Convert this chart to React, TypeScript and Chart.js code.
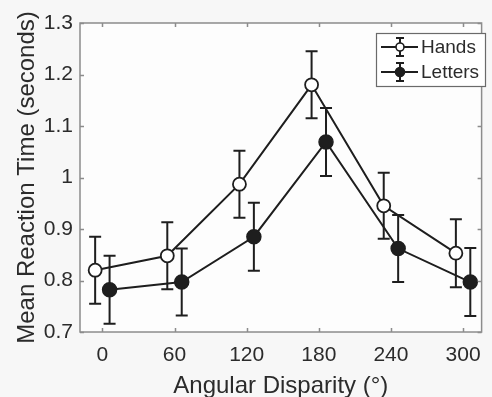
import React, { useEffect, useRef } from "react";
import { Chart, registerables } from "chart.js";

Chart.register(...registerables);

const angles = [0, 60, 120, 180, 240, 300];
const handsMean = [0.82, 0.848, 0.987, 1.18, 0.945, 0.853];
const handsErr = [0.065, 0.065, 0.065, 0.065, 0.064, 0.066];
const lettersMean = [0.782, 0.797, 0.885, 1.069, 0.862, 0.797];
const lettersErr = [0.066, 0.065, 0.066, 0.066, 0.065, 0.066];
const offsetDeg = 6;
const seriesNames = ["Hands", "Letters"];
const yTicks = [0.7, 0.8, 0.9, 1.0, 1.1, 1.2, 1.3];

const FONT = "'Liberation Sans', Arial, Helvetica, sans-serif";
const TEXT = "#2b2b2b";
const AXIS = "#8c8c8c";
const INK = "#1e1e1e";

const errorBars = {
  id: "errorBars",
  beforeDatasetsDraw(chart: any) {
    const ctx = chart.ctx;
    const xs = chart.scales.x;
    const ys = chart.scales.y;
    const errs = [handsErr, lettersErr];
    ctx.save();
    ctx.strokeStyle = INK;
    ctx.lineWidth = 2;
    chart.data.datasets.forEach((ds: any, di: number) => {
      ds.data.forEach((p: any, i: number) => {
        const px = xs.getPixelForValue(p.x);
        const top = ys.getPixelForValue(p.y + errs[di][i]);
        const bot = ys.getPixelForValue(p.y - errs[di][i]);
        ctx.beginPath();
        ctx.moveTo(px, top);
        ctx.lineTo(px, bot);
        ctx.moveTo(px - 6, top);
        ctx.lineTo(px + 6, top);
        ctx.moveTo(px - 6, bot);
        ctx.lineTo(px + 6, bot);
        ctx.stroke();
      });
    });
    ctx.restore();
  },
};

const frame = {
  id: "frame",
  beforeDraw(chart: any) {
    const { ctx, width, height, chartArea: a } = chart;
    ctx.save();
    ctx.fillStyle = "#f7f7f7";
    ctx.fillRect(0, 0, width, height);
    ctx.fillStyle = "#fdfdfd";
    ctx.fillRect(a.left, a.top, a.right - a.left, a.bottom - a.top);
    ctx.restore();
  },
  afterDraw(chart: any) {
    const { ctx, chartArea: a } = chart;
    const xs = chart.scales.x;
    const ys = chart.scales.y;
    ctx.save();
    ctx.strokeStyle = AXIS;
    ctx.lineWidth = 1.5;
    ctx.strokeRect(a.left, a.top, a.right - a.left, a.bottom - a.top);
    ctx.beginPath();
    angles.forEach((v) => {
      const px = Math.round(xs.getPixelForValue(v)) + 0.5;
      ctx.moveTo(px, a.bottom);
      ctx.lineTo(px, a.bottom - 4);
      ctx.moveTo(px, a.top);
      ctx.lineTo(px, a.top + 4);
    });
    yTicks.forEach((v) => {
      const py = Math.round(ys.getPixelForValue(v)) + 0.5;
      ctx.moveTo(a.left, py);
      ctx.lineTo(a.left + 4, py);
      ctx.moveTo(a.right, py);
      ctx.lineTo(a.right - 4, py);
    });
    ctx.stroke();

    // legend
    const bx = 376, by = 33, bw = 109, bh = 53;
    ctx.fillStyle = "#ffffff";
    ctx.fillRect(bx, by, bw, bh);
    ctx.strokeStyle = "#6a6a6a";
    ctx.lineWidth = 1.2;
    ctx.strokeRect(bx + 0.5, by + 0.5, bw, bh);
    const rows = [47, 72];
    rows.forEach((ry, i) => {
      ctx.strokeStyle = INK;
      ctx.lineWidth = 2;
      ctx.beginPath();
      ctx.moveTo(381, ry);
      ctx.lineTo(418, ry);
      ctx.moveTo(400, ry - 9);
      ctx.lineTo(400, ry + 9);
      ctx.moveTo(396, ry - 9);
      ctx.lineTo(404, ry - 9);
      ctx.moveTo(396, ry + 9);
      ctx.lineTo(404, ry + 9);
      ctx.stroke();
      ctx.beginPath();
      ctx.arc(400, ry, i === 0 ? 4 : 4.5, 0, Math.PI * 2);
      ctx.fillStyle = i === 0 ? "#ffffff" : INK;
      ctx.fill();
      ctx.lineWidth = 1.6;
      ctx.stroke();
      ctx.fillStyle = TEXT;
      ctx.font = `19px ${FONT}`;
      ctx.textBaseline = "middle";
      ctx.textAlign = "left";
      ctx.fillText(seriesNames[i], 421, ry + 1);
    });
    ctx.restore();
  },
};

export default function App() {
  const ref = useRef<HTMLCanvasElement>(null);
  useEffect(() => {
    if (!ref.current) return;
    const chart = new Chart(ref.current, {
      type: "line",
      data: {
        datasets: [
          {
            label: seriesNames[0],
            data: angles.map((a, i) => ({ x: a - offsetDeg, y: handsMean[i] })),
            borderColor: INK,
            borderWidth: 2,
            pointRadius: 6.5,
            pointBackgroundColor: "#ffffff",
            pointBorderColor: INK,
            pointBorderWidth: 1.8,
            tension: 0,
          },
          {
            label: seriesNames[1],
            data: angles.map((a, i) => ({ x: a + offsetDeg, y: lettersMean[i] })),
            borderColor: INK,
            borderWidth: 2,
            pointRadius: 7,
            pointBackgroundColor: INK,
            pointBorderColor: INK,
            pointBorderWidth: 1.5,
            tension: 0,
          },
        ],
      },
      options: {
        responsive: false,
        animation: false,
        layout: { padding: { top: 23, right: 0, left: 0, bottom: 0 } },
        plugins: { legend: { display: false }, tooltip: { enabled: false } },
        scales: {
          x: {
            type: "linear",
            min: -18.6,
            max: 315.4,
            grid: { display: false, drawTicks: false },
            border: { display: false },
            afterBuildTicks: (s: any) => {
              s.ticks = angles.map((v) => ({ value: v }));
            },
            afterFit: (s: any) => {
              s.height = 65;
            },
            ticks: {
              color: TEXT,
              font: { family: FONT, size: 21 },
              padding: 11,
              maxRotation: 0,
              autoSkip: false,
              callback: (v: any) => String(v),
            },
            title: {
              display: true,
              text: "Angular Disparity (°)",
              color: TEXT,
              font: { family: FONT, size: 24, lineHeight: 0.92 },
              padding: { top: 0, bottom: 0 },
            },
          },
          y: {
            type: "linear",
            min: 0.7,
            max: 1.3,
            grid: { display: false, drawTicks: false },
            border: { display: false },
            afterBuildTicks: (s: any) => {
              s.ticks = yTicks.map((v) => ({ value: v }));
            },
            afterFit: (s: any) => {
              s.width = 80;
            },
            ticks: {
              color: TEXT,
              font: { family: FONT, size: 21 },
              padding: 7,
              callback: (v: any) => String(Number(Number(v).toFixed(1))),
            },
            title: {
              display: true,
              text: "Mean Reaction Time (seconds)",
              color: TEXT,
              font: { family: FONT, size: 24, lineHeight: 1.2 },
              padding: { top: 13, bottom: 0 },
            },
          },
        },
      },
      plugins: [frame, errorBars],
    });
    return () => chart.destroy();
  }, []);
  return (
    <div style={{ position: "fixed", left: 0, top: 0, width: 492, height: 397 }}>
      <canvas ref={ref} width={492} height={397} style={{ display: "block" }} />
    </div>
  );
}
